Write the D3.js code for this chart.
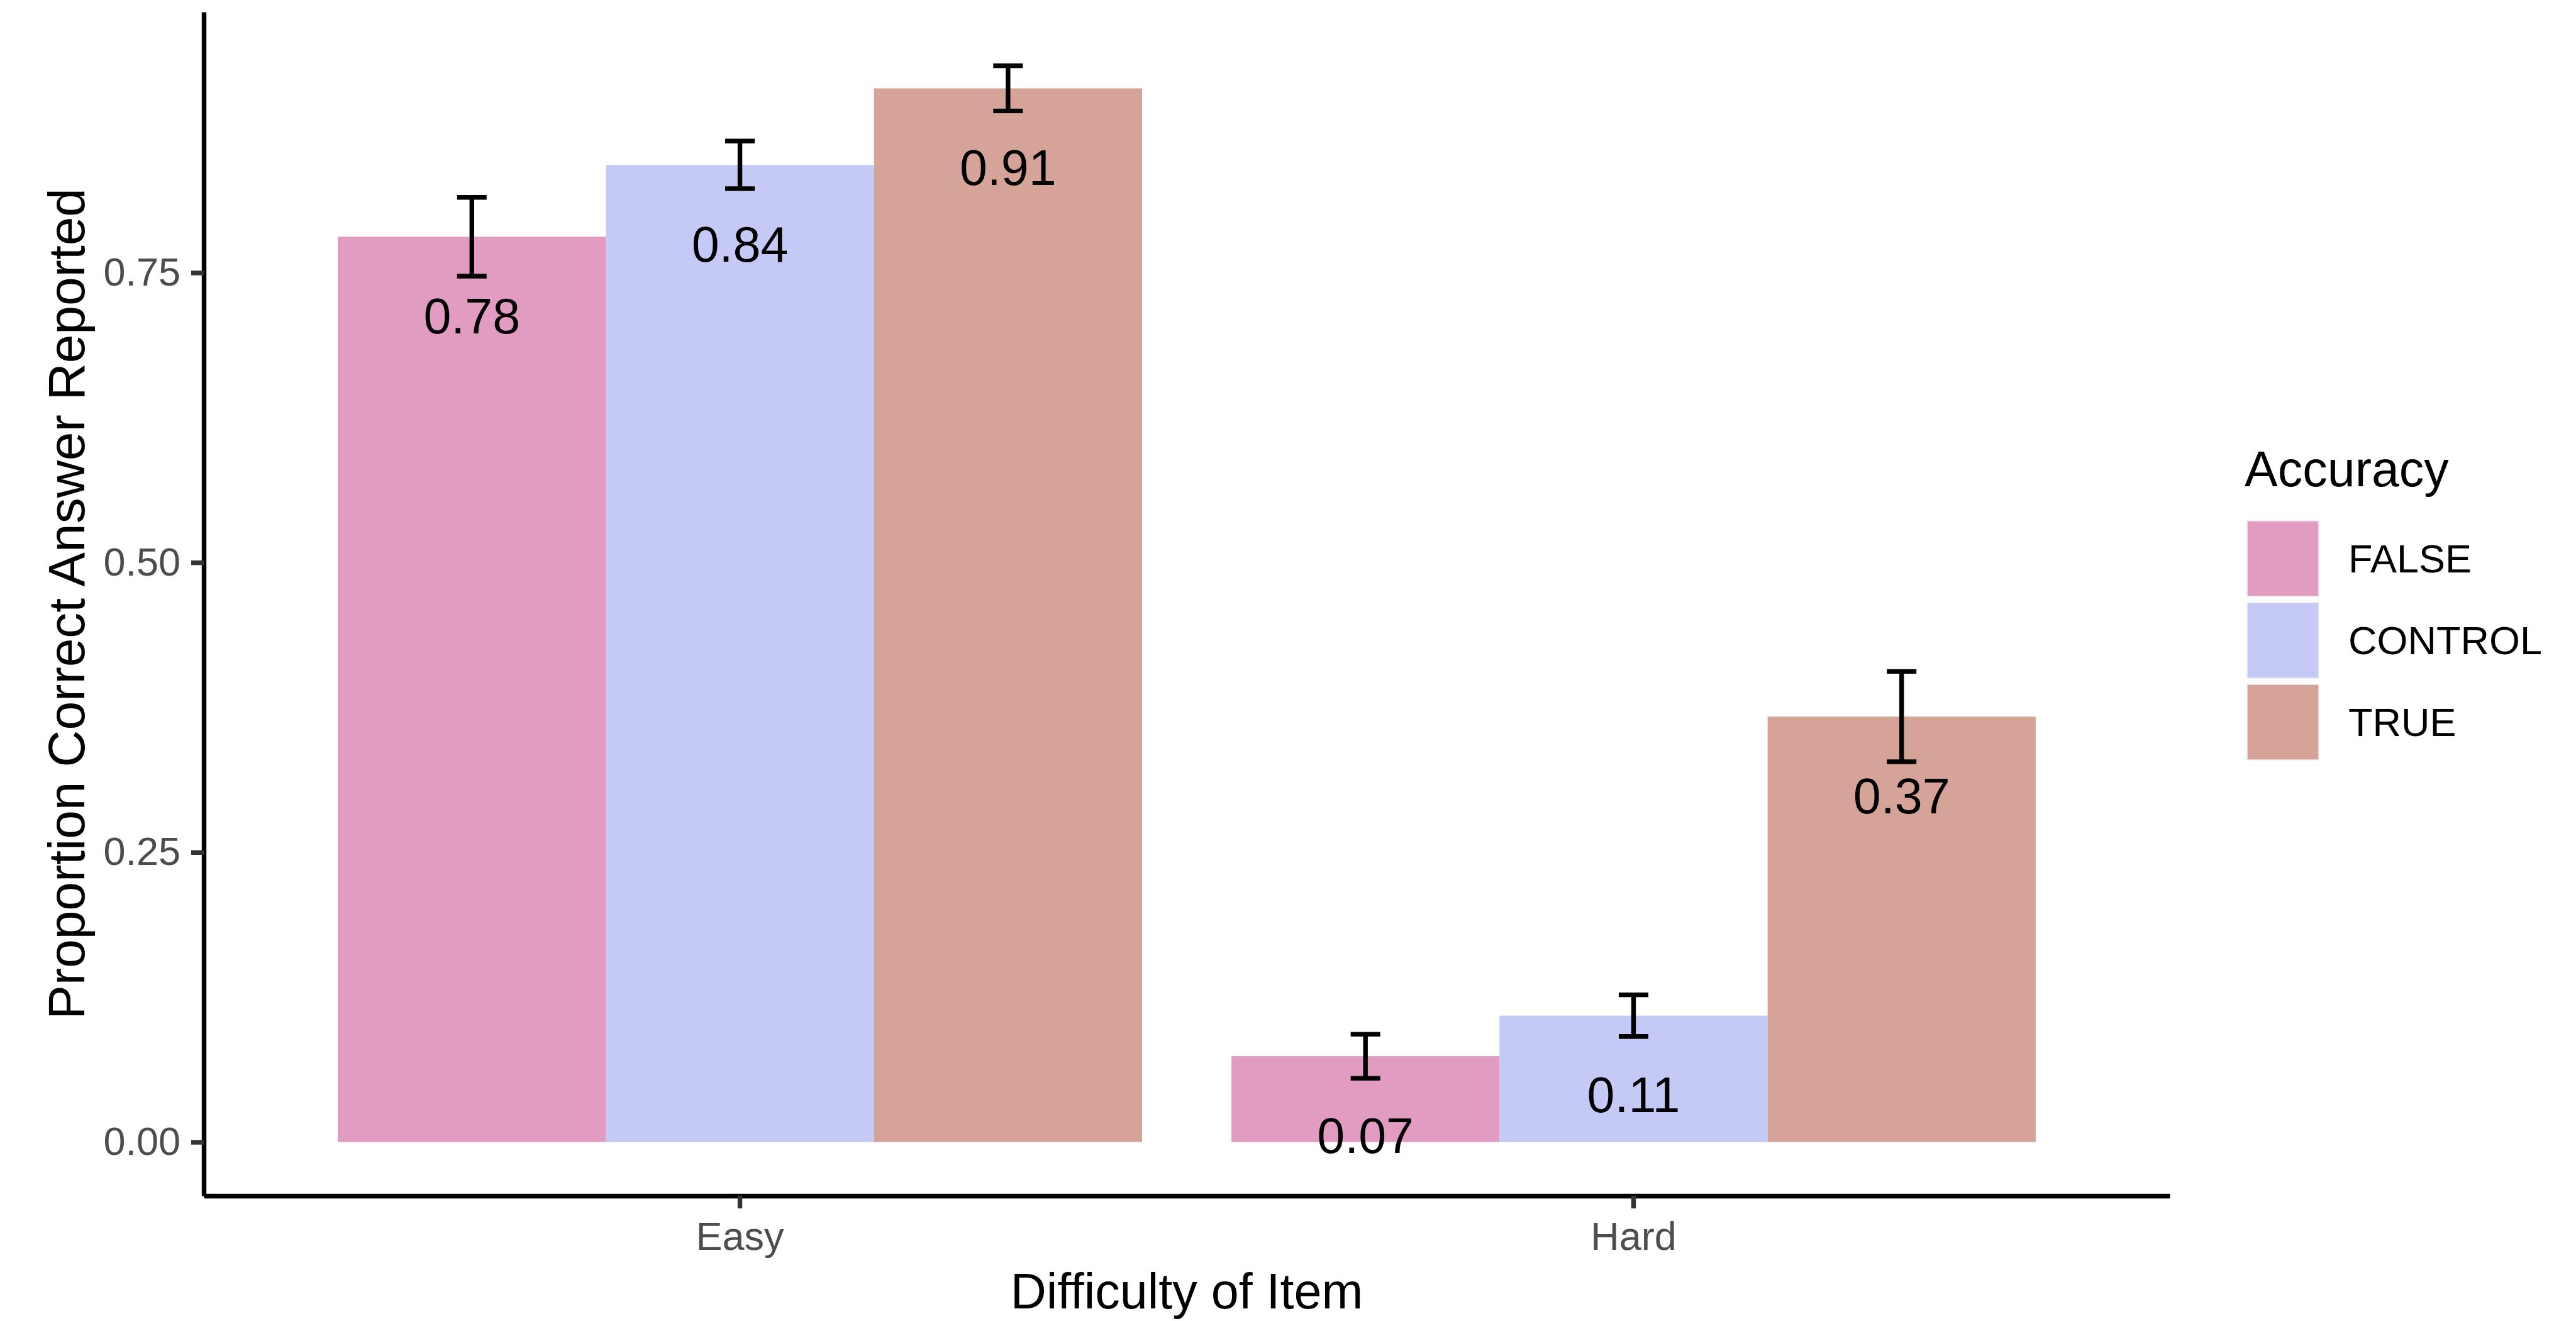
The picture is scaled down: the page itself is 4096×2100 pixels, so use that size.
<!DOCTYPE html>
<html>
<head>
<meta charset="utf-8">
<script src="https://cdn.jsdelivr.net/npm/d3@7"></script>
<style>
  body { margin: 0; background: #fff; }
  svg { display: block; font-family: "Liberation Sans", Arial, Helvetica, sans-serif; }
</style>
</head>
<body>
<svg id="chart" width="4096" height="2100"></svg>
<script>
// difficulty categories and accuracy groups
const categories = ['Easy', 'Hard'];
const groups = ['FALSE', 'CONTROL', 'TRUE'];
const groupColors = ['#E39CC1', '#C4CAF5', '#D6A398'];

// mean proportion correct, per category
const falseVals = [0.781, 0.074];
const controlVals = [0.843, 0.109];
const trueVals = [0.909, 0.367];

// standard errors, per category
const falseSE = [0.034, 0.019];
const controlSE = [0.0205, 0.018];
const trueSE = [0.0195, 0.039];

const yTicks = [0, 0.25, 0.5, 0.75];

const svg = d3.select('#chart');
const pLeft = 324, pRight = 3450, pTop = 19, pBottom = 1901;

const rows = [];
const vals = [falseVals, controlVals, trueVals];
const ses = [falseSE, controlSE, trueSE];
categories.forEach((c, i) => {
	groups.forEach((g, j) => {
		rows.push({cat: c, grp: g, val: vals[j][i], se: ses[j][i]});
	});
});

// ggplot style 5% expansion
const ymax = d3.max(rows, d => d.val + d.se);
const y = d3.scaleLinear()
	.domain([-0.05 * ymax, ymax * 1.05])
	.range([pBottom, pTop]);

const x = d3.scaleBand()
	.domain(categories)
	.range([pLeft, pRight])
	.paddingInner(0.1)
	.paddingOuter(0.15);

const xg = d3.scaleBand()
	.domain(groups)
	.range([0, x.bandwidth()]);

const color = d3.scaleOrdinal().domain(groups).range(groupColors);

// bars
svg.append('g').selectAll('rect').data(rows).enter()
	.append('rect')
	.attr('x', d => x(d.cat) + xg(d.grp))
	.attr('y', d => y(d.val))
	.attr('width', xg.bandwidth())
	.attr('height', d => y(0) - y(d.val))
	.attr('fill', d => color(d.grp));

// error bars
const capW = 47;
const eb = svg.append('g').attr('stroke', '#000').attr('stroke-width', 7.4).attr('fill', 'none');
rows.forEach(d => {
	const cx = x(d.cat) + xg(d.grp) + xg.bandwidth() / 2;
	const y1 = y(d.val + d.se), y2 = y(d.val - d.se);
	eb.append('line').attr('x1', cx).attr('x2', cx).attr('y1', y1).attr('y2', y2);
	eb.append('line').attr('x1', cx - capW / 2).attr('x2', cx + capW / 2).attr('y1', y1).attr('y2', y1);
	eb.append('line').attr('x1', cx - capW / 2).attr('x2', cx + capW / 2).attr('y1', y2).attr('y2', y2);
});

// value labels
svg.append('g').selectAll('text').data(rows).enter()
	.append('text')
	.attr('x', d => x(d.cat) + xg(d.grp) + xg.bandwidth() / 2)
	.attr('y', d => y(d.val) + 125)
	.attr('dy', '0.36em')
	.attr('text-anchor', 'middle')
	.attr('font-size', 79)
	.attr('fill', '#000')
	.text(d => d.val.toFixed(2));

// axes
const yAxis = svg.append('g')
	.attr('transform', `translate(${pLeft},0)`)
	.call(d3.axisLeft(y).tickValues(yTicks).tickFormat(d3.format('.2f')).tickSize(20).tickSizeOuter(0).tickPadding(17));
const xAxis = svg.append('g')
	.attr('transform', `translate(0,${pBottom})`)
	.call(d3.axisBottom(x).tickSize(20).tickSizeOuter(0).tickPadding(21));

[yAxis, xAxis].forEach(a => {
	a.select('.domain').attr('stroke', '#000').attr('stroke-width', 7.4);
	a.selectAll('.tick line').attr('stroke', '#333').attr('stroke-width', 7.4);
	a.selectAll('.tick text').attr('fill', '#4D4D4D').attr('font-size', 63)
		.attr('font-family', '"Liberation Sans", Arial, Helvetica, sans-serif');
});

// axis titles
svg.append('text')
	.attr('x', (pLeft + pRight) / 2).attr('y', 2080)
	.attr('text-anchor', 'middle').attr('font-size', 79)
	.text('Difficulty of Item');
svg.append('text')
	.attr('transform', `translate(134,${(pTop + pBottom) / 2}) rotate(-90)`)
	.attr('text-anchor', 'middle').attr('font-size', 82)
	.text('Proportion Correct Answer Reported');

// legend
const lg = svg.append('g');
lg.append('text').attr('x', 3569).attr('y', 773).attr('font-size', 79).text('Accuracy');
const keyW = 114, keyH = 120, keyStep = 130, keyTop = 828;
groups.forEach((g, i) => {
	lg.append('rect')
		.attr('x', 3573).attr('y', keyTop + i * keyStep)
		.attr('width', keyW).attr('height', keyH)
		.attr('fill', color(g)).attr('stroke', '#f0f0f0').attr('stroke-width', 1.5);
	lg.append('text')
		.attr('x', 3734).attr('y', keyTop + i * keyStep + keyH / 2)
		.attr('dy', '0.35em').attr('font-size', 63)
		.text(g);
});
</script>
</body>
</html>
